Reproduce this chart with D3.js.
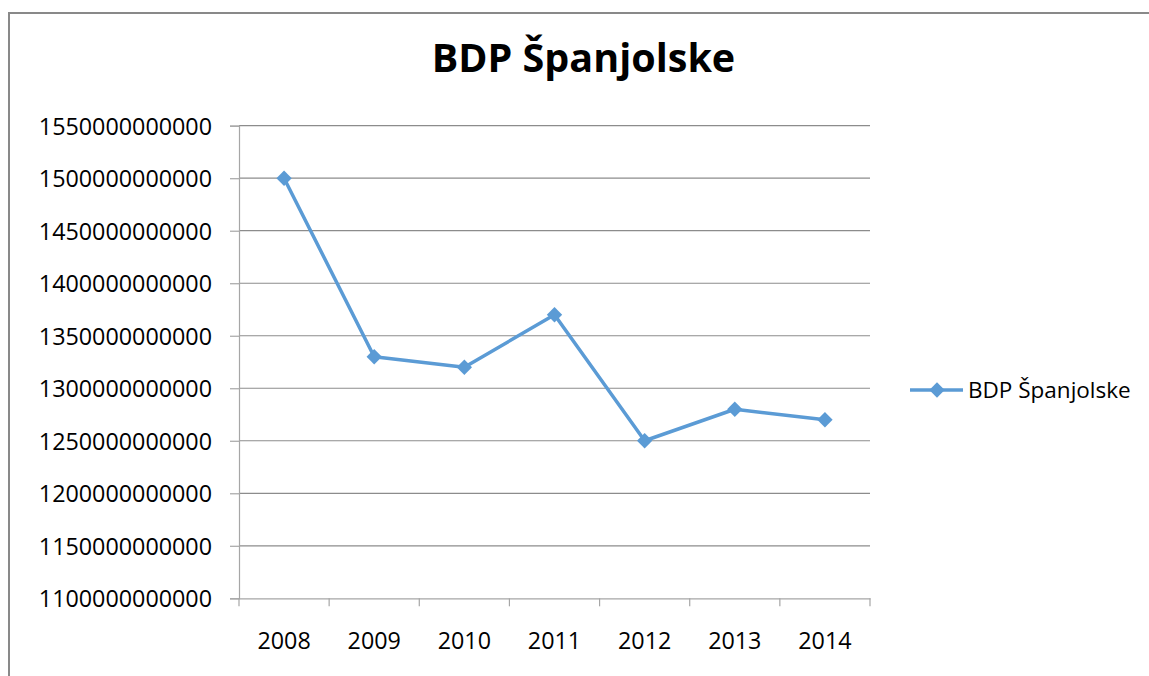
<!DOCTYPE html>
<html>
<head>
<meta charset="utf-8">
<script src="https://cdn.jsdelivr.net/npm/d3@7/dist/d3.min.js"></script>
<style>
  html, body { margin: 0; padding: 0; background: #ffffff; overflow: hidden; }
  svg { display: block; }
  text { font-family: "Open Sans", "Noto Sans", sans-serif; fill: #000; }
</style>
</head>
<body>
<svg id="chart" width="1149" height="676"></svg>
<script>
const title = "BDP Španjolske";
const seriesName = "BDP Španjolske";
const categories = ["2008", "2009", "2010", "2011", "2012", "2013", "2014"];
const values = [1500000000000, 1330000000000, 1320000000000, 1370000000000, 1250000000000, 1280000000000, 1270000000000];
const yTicks = [1100000000000, 1150000000000, 1200000000000, 1250000000000, 1300000000000, 1350000000000, 1400000000000, 1450000000000, 1500000000000, 1550000000000];

const svg = d3.select("#chart");
const W = 1149, H = 676;
const plot = { left: 239, right: 870, top: 125.7, bottom: 598.3 };

// outer frame: only left and top edges are inside the picture
svg.append("path")
  .attr("d", `M9,${H} L9,13 L${W},13`)
  .attr("fill", "none")
  .attr("stroke", "#898989").attr("stroke-width", 2);

const x = d3.scaleBand().domain(categories).range([plot.left, plot.right]);
const y = d3.scaleLinear().domain([1100000000000, 1550000000000]).range([plot.bottom, plot.top]);

// gridlines
svg.append("g").selectAll("line").data(yTicks.filter(t => t !== 1100000000000)).join("line")
  .attr("x1", plot.left).attr("x2", plot.right)
  .attr("y1", d => y(d)).attr("y2", d => y(d))
  .attr("stroke", "#8c8c8c").attr("stroke-width", 1.2);

// y axis
const yAxis = svg.append("g").attr("transform", `translate(${plot.left},0)`)
  .call(d3.axisLeft(y).tickValues(yTicks).tickSize(9).tickPadding(18).tickFormat(d => d3.format("d")(d)));
yAxis.select(".domain").attr("stroke", "#a6a6a6").attr("stroke-width", 1.2);
yAxis.selectAll(".tick line").attr("stroke", "#a6a6a6").attr("stroke-width", 1.2);
yAxis.selectAll(".tick text").attr("font-size", 23.3).attr("font-family", "'Open Sans', sans-serif").attr("fill", "#000").attr("dy", "0.36em");

// x axis
const xAxis = svg.append("g").attr("transform", `translate(0,${plot.bottom})`)
  .call(d3.axisBottom(x).tickSize(0).tickPadding(34));
xAxis.select(".domain").attr("stroke", "#a6a6a6").attr("stroke-width", 1.2);
xAxis.selectAll(".tick text").attr("font-size", 23.3).attr("font-family", "'Open Sans', sans-serif").attr("fill", "#000");
// category boundary ticks
const bounds = categories.map(c => x(c)).concat([x(categories[categories.length - 1]) + x.bandwidth()]);
xAxis.append("g").selectAll("line").data(bounds).join("line")
  .attr("x1", d => d).attr("x2", d => d).attr("y1", 0).attr("y2", 8)
  .attr("stroke", "#a6a6a6").attr("stroke-width", 1.2);

// line
const color = "#5b9bd5";
const line = d3.line().x((d, i) => x(categories[i]) + x.bandwidth() / 2).y(d => y(d));
svg.append("path").datum(values)
  .attr("d", line).attr("fill", "none")
  .attr("stroke", color).attr("stroke-width", 3.5).attr("stroke-linejoin", "round");

const diamond = d3.symbol().type(d3.symbolDiamond2).size(150);
svg.append("g").selectAll("path").data(values).join("path")
  .attr("transform", (d, i) => `translate(${x(categories[i]) + x.bandwidth() / 2},${y(d)})`)
  .attr("d", diamond).attr("fill", color);

// title
svg.append("text")
  .attr("x", 583.5).attr("y", 72)
  .attr("text-anchor", "middle")
  .attr("font-size", 39.5).attr("font-weight", "bold")
  .text(title);

// legend
const ly = 390;
svg.append("line").attr("x1", 910).attr("x2", 963).attr("y1", ly).attr("y2", ly)
  .attr("stroke", color).attr("stroke-width", 3.5);
svg.append("path").attr("transform", `translate(937,${ly})`).attr("d", diamond).attr("fill", color);
svg.append("text").attr("x", 968).attr("y", ly).attr("dy", "0.36em")
  .attr("font-size", 22.5).text(seriesName);
</script>
</body>
</html>
